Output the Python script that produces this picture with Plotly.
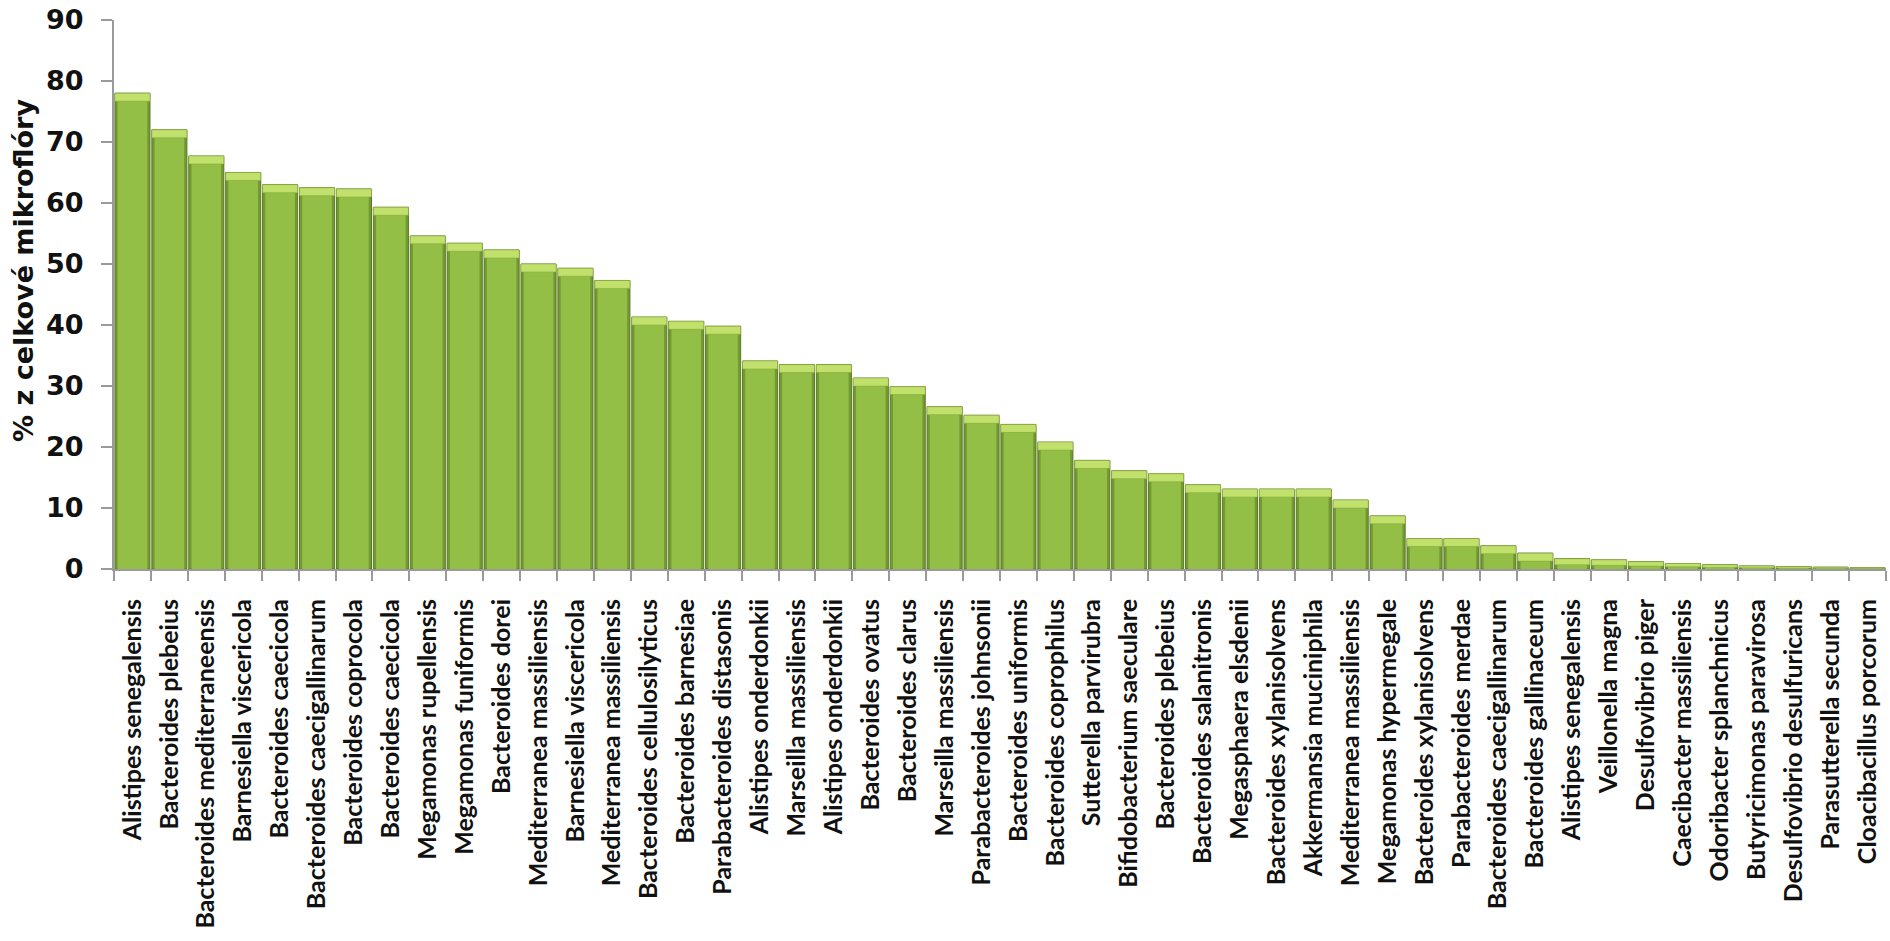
import plotly.graph_objects as go

species = [
    "Alistipes senegalensis", "Bacteroides plebeius", "Bacteroides mediterraneensis",
    "Barnesiella viscericola", "Bacteroides caecicola", "Bacteroides caecigallinarum",
    "Bacteroides coprocola", "Bacteroides caecicola", "Megamonas rupellensis",
    "Megamonas funiformis", "Bacteroides dorei", "Mediterranea massiliensis",
    "Barnesiella viscericola", "Mediterranea massiliensis", "Bacteroides cellulosilyticus",
    "Bacteroides barnesiae", "Parabacteroides distasonis", "Alistipes onderdonkii",
    "Marseilla massiliensis", "Alistipes onderdonkii", "Bacteroides ovatus",
    "Bacteroides clarus", "Marseilla massiliensis", "Parabacteroides johnsonii",
    "Bacteroides uniformis", "Bacteroides coprophilus", "Sutterella parvirubra",
    "Bifidobacterium saeculare", "Bacteroides plebeius", "Bacteroides salanitronis",
    "Megasphaera elsdenii", "Bacteroides xylanisolvens", "Akkermansia muciniphila",
    "Mediterranea massiliensis", "Megamonas hypermegale", "Bacteroides xylanisolvens",
    "Parabacteroides merdae", "Bacteroides caecigallinarum", "Bacteroides gallinaceum",
    "Alistipes senegalensis", "Veillonella magna", "Desulfovibrio piger",
    "Caecibacter massiliensis", "Odoribacter splanchnicus", "Butyricimonas paravirosa",
    "Desulfovibrio desulfuricans", "Parasutterella secunda", "Cloacibacillus porcorum",
]

percent = [
    78.0, 72.0, 67.7, 65.0, 63.0, 62.5, 62.3, 59.3, 54.6, 53.4,
    52.3, 50.0, 49.3, 47.3, 41.3, 40.6, 39.8, 34.1, 33.5, 33.5,
    31.3, 29.9, 26.6, 25.2, 23.7, 20.8, 17.8, 16.1, 15.6, 13.8,
    13.1, 13.1, 13.1, 11.3, 8.7, 5.0, 5.0, 3.8, 2.6, 1.7,
    1.5, 1.2, 0.9, 0.7, 0.5, 0.4, 0.3, 0.2,
]

y_ticks = [0, 10, 20, 30, 40, 50, 60, 70, 80, 90]

x = list(range(len(species)))
cap = [min(1.3, v * 0.6) for v in percent]
body = [v - c for v, c in zip(percent, cap)]

fig = go.Figure()
# outer (dark edge) bar
fig.add_trace(go.Bar(
    x=x, y=percent, width=0.95,
    marker=dict(color="#749A33", line=dict(color="#5A7825", width=1)),
    hoverinfo="skip", showlegend=False,
))
# inner body
fig.add_trace(go.Bar(
    x=x, y=body, width=0.80,
    marker=dict(color="#93BF47", line=dict(width=0)),
    hoverinfo="skip", showlegend=False,
))
# light top bevel
fig.add_trace(go.Bar(
    x=x, y=cap, base=body, width=0.95,
    marker=dict(color="#C1E16C", line=dict(color="#86AA3A", width=0.5)),
    customdata=percent, hovertemplate="%{customdata}<extra></extra>",
    showlegend=False,
))

fig.update_layout(
    width=1890, height=941,
    margin=dict(l=114, r=4, t=20, b=372),
    barmode="overlay",
    plot_bgcolor="white", paper_bgcolor="white",
    xaxis=dict(
        range=[-0.5, len(species) - 0.5],
        tickmode="array", tickvals=x, ticktext=species,
        tickangle=-90, ticks="outside", ticklen=18, tickcolor="rgba(0,0,0,0)",
        tickfont=dict(family="Lato", size=25, color="#111111", weight="bold"),
        showline=True, linecolor="#9a9a9a", linewidth=2,
        showgrid=False, zeroline=False,
        minor=dict(tickmode="array", tickvals=[i + 0.5 for i in range(-1, len(species))],
                   ticks="outside", ticklen=10, tickcolor="#9a9a9a", tickwidth=2,
                   showgrid=False),
    ),
    yaxis=dict(
        range=[0, 90], tickmode="array", tickvals=y_ticks,
        ticks="outside", ticklen=11, tickcolor="#9a9a9a", tickwidth=2,
        ticklabelstandoff=12,
        tickfont=dict(family="DejaVu Sans", size=27, color="#111111", weight="bold"),
        showline=True, linecolor="#9a9a9a", linewidth=2,
        showgrid=False, zeroline=False,
    ),
    annotations=[dict(
        text="% z celkové mikroflóry", textangle=-90,
        xref="paper", yref="paper", x=0, y=0.543, xanchor="center", yanchor="middle",
        xshift=-90, showarrow=False,
        font=dict(family="DejaVu Sans", size=27, color="#111111", weight="bold"),
    )],
)

fig.write_html("out.html")
